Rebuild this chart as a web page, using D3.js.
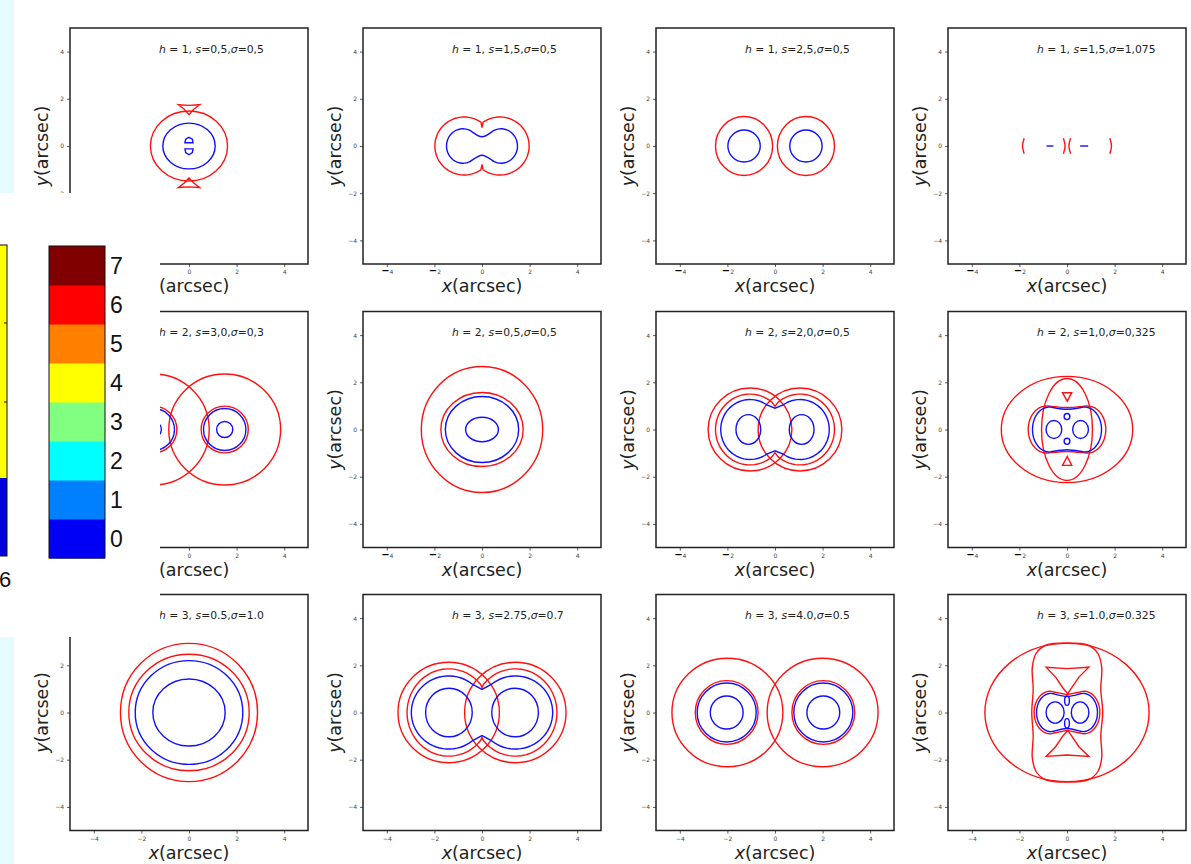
<!DOCTYPE html>
<html>
<head>
<meta charset="utf-8">
<script src="https://cdn.jsdelivr.net/npm/d3@7"></script>
<style>
  body { margin: 0; background: #fff; }
  svg { display: block; }
</style>
</head>
<body>
<svg id="chart" width="1191" height="864"></svg>
<script>
// panel labels
const hValues = [1, 1, 1, 1, 2, 2, 2, 2, 3, 3, 3, 3];
const sLabels = ["0,5", "1,5", "2,5", "1,5", "3,0", "0,5", "2,0", "1,0", "0.5", "2.75", "4.0", "1.0"];
const sigmaLabels = ["0,5", "0,5", "0,5", "1,075", "0,3", "0,5", "0,5", "0,325", "1.0", "0.7", "0.5", "0.325"];
const tickValues = [-4, -2, 0, 2, 4];

// colorbar
const cbLevels = [0, 1, 2, 3, 4, 5, 6, 7];
const cbColors = ["#0000f5", "#0080ff", "#00ffff", "#80ff80", "#ffff00", "#ff8000", "#ff0000", "#800000"];

// critical curves (blue) and caustics (red), in arcsec
const curvesP1 = [
  { kind: "ellipse", c: "r", cx: 0, cy: 0, rx: 1.62, ry: 1.48 },
  { kind: "poly", c: "r", closed: true, pts: [[-0.45, 1.75], [0, 1.72], [0.45, 1.75], [0.2, 1.56], [0, 1.33], [-0.2, 1.56]] },
  { kind: "poly", c: "r", closed: true, pts: [[-0.45, -1.76], [0, -1.73], [0.45, -1.76], [0.2, -1.57], [0, -1.36], [-0.2, -1.57]] },
  { kind: "ellipse", c: "b", cx: 0, cy: 0, rx: 1.1, ry: 0.97 },
  { kind: "poly", c: "b", closed: true, pts: [[-0.17, 0.14], [-0.14, 0.29], [0, 0.37], [0.14, 0.29], [0.17, 0.14]] },
  { kind: "poly", c: "b", closed: true, pts: [[-0.17, -0.12], [0.17, -0.12], [0.14, -0.28], [0, -0.37], [-0.14, -0.28]] }
];
const curvesP2 = [
  { kind: "lobes", c: "r", d: 0.75, r: 1.23, ry: 1.23, end: 125, w: 0.78, smooth: false },
  { kind: "lobes", c: "b", d: 0.8, r: 0.69, ry: 0.73, end: 115, w: 0.39, smooth: true }
];
const curvesP3 = [
  { kind: "ellipse", c: "r", cx: -1.3, cy: 0, rx: 1.2, ry: 1.25 },
  { kind: "ellipse", c: "r", cx: 1.3, cy: 0, rx: 1.2, ry: 1.25 },
  { kind: "ellipse", c: "b", cx: -1.3, cy: 0, rx: 0.68, ry: 0.68 },
  { kind: "ellipse", c: "b", cx: 1.3, cy: 0, rx: 0.68, ry: 0.68 }
];
const curvesP4 = [
  { kind: "poly", c: "r", smooth: true, pts: [[-1.8, 0.33], [-1.87, 0], [-1.8, -0.33]] },
  { kind: "poly", c: "r", smooth: true, pts: [[1.8, 0.33], [1.87, 0], [1.8, -0.33]] },
  { kind: "poly", c: "r", smooth: true, pts: [[-0.15, 0.33], [-0.08, 0], [-0.15, -0.33]] },
  { kind: "poly", c: "r", smooth: true, pts: [[0.15, 0.33], [0.08, 0], [0.15, -0.33]] },
  { kind: "poly", c: "b", pts: [[-0.86, 0], [-0.57, 0]] },
  { kind: "poly", c: "b", pts: [[0.55, 0], [0.89, 0]] }
];
const curvesP5 = [
  { kind: "ellipse", c: "r", cx: -1.5, cy: 0, rx: 2.35, ry: 2.35 },
  { kind: "ellipse", c: "r", cx: 1.5, cy: 0, rx: 2.35, ry: 2.35 },
  { kind: "ellipse", c: "r", cx: -1.5, cy: 0, rx: 0.99, ry: 0.99 },
  { kind: "ellipse", c: "r", cx: 1.5, cy: 0, rx: 0.99, ry: 0.99 },
  { kind: "ellipse", c: "b", cx: -1.5, cy: 0, rx: 0.89, ry: 0.89 },
  { kind: "ellipse", c: "b", cx: 1.5, cy: 0, rx: 0.89, ry: 0.89 },
  { kind: "ellipse", c: "b", cx: -1.5, cy: 0, rx: 0.34, ry: 0.34 },
  { kind: "ellipse", c: "b", cx: 1.5, cy: 0, rx: 0.34, ry: 0.34 }
];
const curvesP6 = [
  { kind: "ellipse", c: "r", cx: 0, cy: 0, rx: 2.55, ry: 2.67 },
  { kind: "ellipse", c: "r", cx: 0, cy: 0, rx: 1.73, ry: 1.57 },
  { kind: "ellipse", c: "b", cx: 0, cy: 0, rx: 1.54, ry: 1.4 },
  { kind: "ellipse", c: "b", cx: 0, cy: 0, rx: 0.69, ry: 0.52 }
];
const curvesP7 = [
  { kind: "ellipse", c: "r", cx: -1.05, cy: 0, rx: 1.76, ry: 1.76 },
  { kind: "ellipse", c: "r", cx: 1.05, cy: 0, rx: 1.76, ry: 1.76 },
  { kind: "lobes", c: "r", d: 1.05, r: 1.45, ry: 1.5, end: 130, w: 0.98, smooth: false },
  { kind: "lobes", c: "b", d: 1.05, r: 1.23, ry: 1.27, end: 125, w: 0.9, smooth: false },
  { kind: "ellipse", c: "b", cx: -1.12, cy: 0, rx: 0.52, ry: 0.63 },
  { kind: "ellipse", c: "b", cx: 1.12, cy: 0, rx: 0.52, ry: 0.63 }
];
const curvesP8 = [
  { kind: "ellipse", c: "r", cx: 0, cy: 0, rx: 2.76, ry: 2.25 },
  { kind: "ellipse", c: "r", cx: 0, cy: 0, rx: 1.07, ry: 2.16 },
  { kind: "lobes", c: "r", d: 0.85, r: 0.78, ry: 1.0, end: 95, w: 0.93, smooth: true },
  { kind: "lobes", c: "b", d: 0.75, r: 0.7, ry: 0.95, end: 95, w: 0.86, smooth: true },
  { kind: "ellipse", c: "b", cx: -0.55, cy: 0, rx: 0.33, ry: 0.38 },
  { kind: "ellipse", c: "b", cx: 0.57, cy: 0, rx: 0.33, ry: 0.38 },
  { kind: "ellipse", c: "b", cx: 0, cy: 0.55, rx: 0.12, ry: 0.13 },
  { kind: "ellipse", c: "b", cx: 0, cy: -0.5, rx: 0.12, ry: 0.13 },
  { kind: "poly", c: "r", closed: true, pts: [[-0.19, 1.56], [0.2, 1.56], [0.01, 1.2]] },
  { kind: "poly", c: "r", closed: true, pts: [[-0.19, -1.52], [0.2, -1.52], [0.01, -1.14]] }
];
const curvesP9 = [
  { kind: "ellipse", c: "r", cx: 0, cy: 0, rx: 2.88, ry: 2.93 },
  { kind: "ellipse", c: "r", cx: 0, cy: 0, rx: 2.53, ry: 2.47 },
  { kind: "ellipse", c: "b", cx: 0, cy: 0, rx: 2.26, ry: 2.2 },
  { kind: "ellipse", c: "b", cx: 0, cy: 0, rx: 1.52, ry: 1.42 }
];
const curvesP10 = [
  { kind: "ellipse", c: "r", cx: -1.4, cy: 0, rx: 2.13, ry: 2.13 },
  { kind: "ellipse", c: "r", cx: 1.4, cy: 0, rx: 2.13, ry: 2.13 },
  { kind: "lobes", c: "r", d: 1.4, r: 1.75, ry: 1.85, end: 140, w: 1.06, smooth: false },
  { kind: "lobes", c: "b", d: 1.4, r: 1.57, ry: 1.55, end: 130, w: 0.98, smooth: false },
  { kind: "ellipse", c: "b", cx: -1.39, cy: 0, rx: 0.98, ry: 1.03 },
  { kind: "ellipse", c: "b", cx: 1.39, cy: 0, rx: 0.98, ry: 1.03 }
];
const curvesP11 = [
  { kind: "ellipse", c: "r", cx: -2.0, cy: 0, rx: 2.33, ry: 2.3 },
  { kind: "ellipse", c: "r", cx: 2.0, cy: 0, rx: 2.33, ry: 2.3 },
  { kind: "ellipse", c: "r", cx: -2.03, cy: 0, rx: 1.32, ry: 1.35 },
  { kind: "ellipse", c: "r", cx: 2.03, cy: 0, rx: 1.32, ry: 1.35 },
  { kind: "ellipse", c: "b", cx: -2.03, cy: 0, rx: 1.24, ry: 1.25 },
  { kind: "ellipse", c: "b", cx: 2.03, cy: 0, rx: 1.24, ry: 1.25 },
  { kind: "ellipse", c: "b", cx: -2.03, cy: 0, rx: 0.69, ry: 0.7 },
  { kind: "ellipse", c: "b", cx: 2.03, cy: 0, rx: 0.69, ry: 0.7 }
];
const curvesP12 = [
  { kind: "ellipse", c: "r", cx: 0, cy: 0, rx: 3.45, ry: 2.93 },
  { kind: "poly", c: "r", closed: true, smooth: true, pts: [
    [1.5, 0], [1.42, 1.0], [1.46, 1.9], [1.3, 2.5], [0.9, 2.85], [0, 2.95], [-0.9, 2.85], [-1.3, 2.5], [-1.46, 1.9], [-1.42, 1.0],
    [-1.48, 0], [-1.42, -1.0], [-1.46, -1.9], [-1.3, -2.5], [-0.9, -2.85], [0, -2.95], [0.9, -2.85], [1.3, -2.5], [1.46, -1.9], [1.42, -1.0]] },
  { kind: "poly", c: "r", closed: true, pts: [[-0.88, 1.92], [0, 1.86], [0.92, 1.92], [0.5, 1.5], [0.2, 1.05], [0.03, 0.8], [-0.18, 1.05], [-0.48, 1.5]] },
  { kind: "poly", c: "r", closed: true, pts: [[-0.88, -1.86], [0, -1.8], [0.92, -1.86], [0.5, -1.45], [0.2, -1.0], [0.03, -0.76], [-0.18, -1.0], [-0.48, -1.45]] },
  { kind: "lobes", c: "r", d: 0.72, r: 0.66, ry: 0.9, end: 105, w: 0.76, smooth: false },
  { kind: "lobes", c: "b", d: 0.68, r: 0.6, ry: 0.81, end: 105, w: 0.68, smooth: true },
  { kind: "ellipse", c: "b", cx: -0.5, cy: 0, rx: 0.38, ry: 0.45 },
  { kind: "ellipse", c: "b", cx: 0.55, cy: 0, rx: 0.37, ry: 0.45 },
  { kind: "ellipse", c: "b", cx: 0, cy: 0.5, rx: 0.1, ry: 0.2 },
  { kind: "ellipse", c: "b", cx: 0, cy: -0.46, rx: 0.1, ry: 0.2 }
];
const panelCurves = [curvesP1, curvesP2, curvesP3, curvesP4, curvesP5, curvesP6,
  curvesP7, curvesP8, curvesP9, curvesP10, curvesP11, curvesP12];

// layout
const colX = [70, 363, 656, 948];
const rowY = [28, 311.5, 594.5];
const W = 238, H = 236;
const RED = "#ff1010", BLUE = "#1010ff";
const FONT = "DejaVu Sans";

const svg = d3.select("#chart");

// slide background strips
svg.append("rect").attr("x", 0).attr("y", 0).attr("width", 14).attr("height", 193).attr("fill", "#e6fbff");
svg.append("rect").attr("x", 0).attr("y", 637).attr("width", 14).attr("height", 227).attr("fill", "#e6fbff");

function lobePoints(d) {
  const a = d.end * Math.PI / 180, n = 48, pts = [];
  for (let i = 0; i <= n; i++) {
    const t = -a + 2 * a * i / n;
    pts.push([d.d + d.r * Math.cos(t), d.ry * Math.sin(t)]);
  }
  pts.push([0, d.w]);
  for (let i = 0; i <= n; i++) {
    const t = Math.PI - a + 2 * a * i / n;
    pts.push([-d.d + d.r * Math.cos(t), d.ry * Math.sin(t)]);
  }
  pts.push([0, -d.w]);
  return pts;
}

function drawCurve(g, x, y, d) {
  const col = d.c === "r" ? RED : BLUE;
  if (d.kind === "ellipse") {
    g.append("ellipse")
      .attr("cx", x(d.cx)).attr("cy", y(d.cy))
      .attr("rx", x(d.rx) - x(0)).attr("ry", y(0) - y(d.ry))
      .attr("fill", "none").attr("stroke", col).attr("stroke-width", 1.4);
    return;
  }
  let pts, curve;
  if (d.kind === "lobes") {
    pts = lobePoints(d);
    curve = d.smooth ? d3.curveCatmullRomClosed : d3.curveLinearClosed;
  } else {
    pts = d.pts;
    if (d.closed) curve = d.smooth ? d3.curveCatmullRomClosed : d3.curveLinearClosed;
    else curve = d.smooth ? d3.curveCatmullRom : d3.curveLinear;
  }
  const line = d3.line().x(p => x(p[0])).y(p => y(p[1])).curve(curve);
  g.append("path").attr("d", line(pts))
    .attr("fill", "none").attr("stroke", col).attr("stroke-width", 1.4)
    .attr("stroke-linejoin", "miter");
}

function styleTicks(sel, boldMinus) {
  sel.select(".domain").remove();
  sel.selectAll(".tick line").attr("stroke", "#333").attr("stroke-width", 0.8);
  sel.selectAll(".tick text")
    .attr("font-family", FONT).attr("font-size", 6).attr("fill", "#444")
    .each(function (v) {
      const t = d3.select(this);
      t.text("");
      if (v < 0) {
        t.append("tspan").text("−")
          .attr("font-weight", boldMinus ? "bold" : null)
          .attr("fill", boldMinus ? "#000" : null)
          .attr("font-size", boldMinus ? 10 : null);
        t.append("tspan").text(-v);
      } else {
        t.text(v);
      }
    });
}

panelCurves.forEach((curves, i) => {
  const row = Math.floor(i / 4), col = i % 4;
  const g = svg.append("g").attr("transform", `translate(${colX[col]},${rowY[row]})`);
  const x = d3.scaleLinear().domain([-5, 5]).range([0, W]);
  const y = d3.scaleLinear().domain([-5, 5]).range([H, 0]);

  g.append("rect").attr("width", W).attr("height", H).attr("fill", "#fff");

  curves.forEach(d => drawCurve(g, x, y, d));

  const boldMinus = row < 2;
  g.append("g").attr("transform", `translate(0,${H})`)
    .call(d3.axisBottom(x).tickValues(tickValues).tickSize(3).tickPadding(3))
    .call(s => styleTicks(s, boldMinus));
  g.append("g")
    .call(d3.axisLeft(y).tickValues(tickValues).tickSize(3).tickPadding(3))
    .call(s => styleTicks(s, false));

  g.append("rect").attr("width", W).attr("height", H)
    .attr("fill", "none").attr("stroke", "#222").attr("stroke-width", 1.5);

  // title
  const tt = g.append("text").attr("x", 89).attr("y", 24.5)
    .attr("font-family", FONT).attr("font-size", 10.8).attr("fill", "#222");
  tt.append("tspan").attr("font-style", "italic").text("h");
  tt.append("tspan").text(` = ${hValues[i]}, `);
  tt.append("tspan").attr("font-style", "italic").text("s");
  tt.append("tspan").text(`=${sLabels[i]},`);
  tt.append("tspan").attr("font-style", "italic").text("σ");
  tt.append("tspan").text(`=${sigmaLabels[i]}`);

  // axis labels
  const xl = g.append("text").attr("x", W / 2).attr("y", H + 28)
    .attr("text-anchor", "middle").attr("font-family", FONT).attr("font-size", 17.5).attr("fill", "#222");
  xl.append("tspan").attr("font-style", "italic").text("x");
  xl.append("tspan").text("(arcsec)");
  const yl = g.append("text").attr("transform", `translate(-22,${H / 2}) rotate(-90)`)
    .attr("text-anchor", "middle").attr("font-family", FONT).attr("font-size", 17.5).attr("fill", "#222");
  yl.append("tspan").attr("font-style", "italic").text("y");
  yl.append("tspan").text("(arcsec)");
});

// pasted colorbar image on top
const ov = svg.append("g");
ov.append("rect").attr("x", 0).attr("y", 193).attr("width", 160).attr("height", 444).attr("fill", "#fff");

// cropped colorbar at the far left
ov.append("rect").attr("x", -2).attr("y", 245).attr("width", 9).attr("height", 233).attr("fill", "#ffff00");
ov.append("rect").attr("x", -2).attr("y", 478).attr("width", 9).attr("height", 78).attr("fill", "#0000dd");
ov.append("rect").attr("x", -2).attr("y", 245).attr("width", 9).attr("height", 311)
  .attr("fill", "none").attr("stroke", "#111").attr("stroke-width", 1);
[323, 402].forEach(v => ov.append("line").attr("x1", 4).attr("x2", 7).attr("y1", v).attr("y2", v)
  .attr("stroke", "#111").attr("stroke-width", 1));
ov.append("text").attr("x", -1).attr("y", 587).attr("font-family", "Liberation Sans")
  .attr("font-size", 22).attr("fill", "#111").text("6");

// main discrete colorbar
const cbY = d3.scaleBand().domain(cbLevels.slice().reverse()).range([246, 558]);
ov.selectAll("rect.band").data(cbLevels).join("rect").attr("class", "band")
  .attr("x", 49).attr("y", d => cbY(d)).attr("width", 56).attr("height", cbY.bandwidth() + 0.5)
  .attr("fill", d => cbColors[d]);
ov.append("rect").attr("x", 49).attr("y", 246).attr("width", 56).attr("height", 312)
  .attr("fill", "none").attr("stroke", "#111").attr("stroke-width", 1);
ov.selectAll("text.cbl").data(cbLevels).join("text").attr("class", "cbl")
  .attr("x", 110).attr("y", d => cbY(d) + cbY.bandwidth() / 2 + 8)
  .attr("font-family", "Liberation Sans").attr("font-size", 23).attr("fill", "#111")
  .text(d => d);
</script>
</body>
</html>
